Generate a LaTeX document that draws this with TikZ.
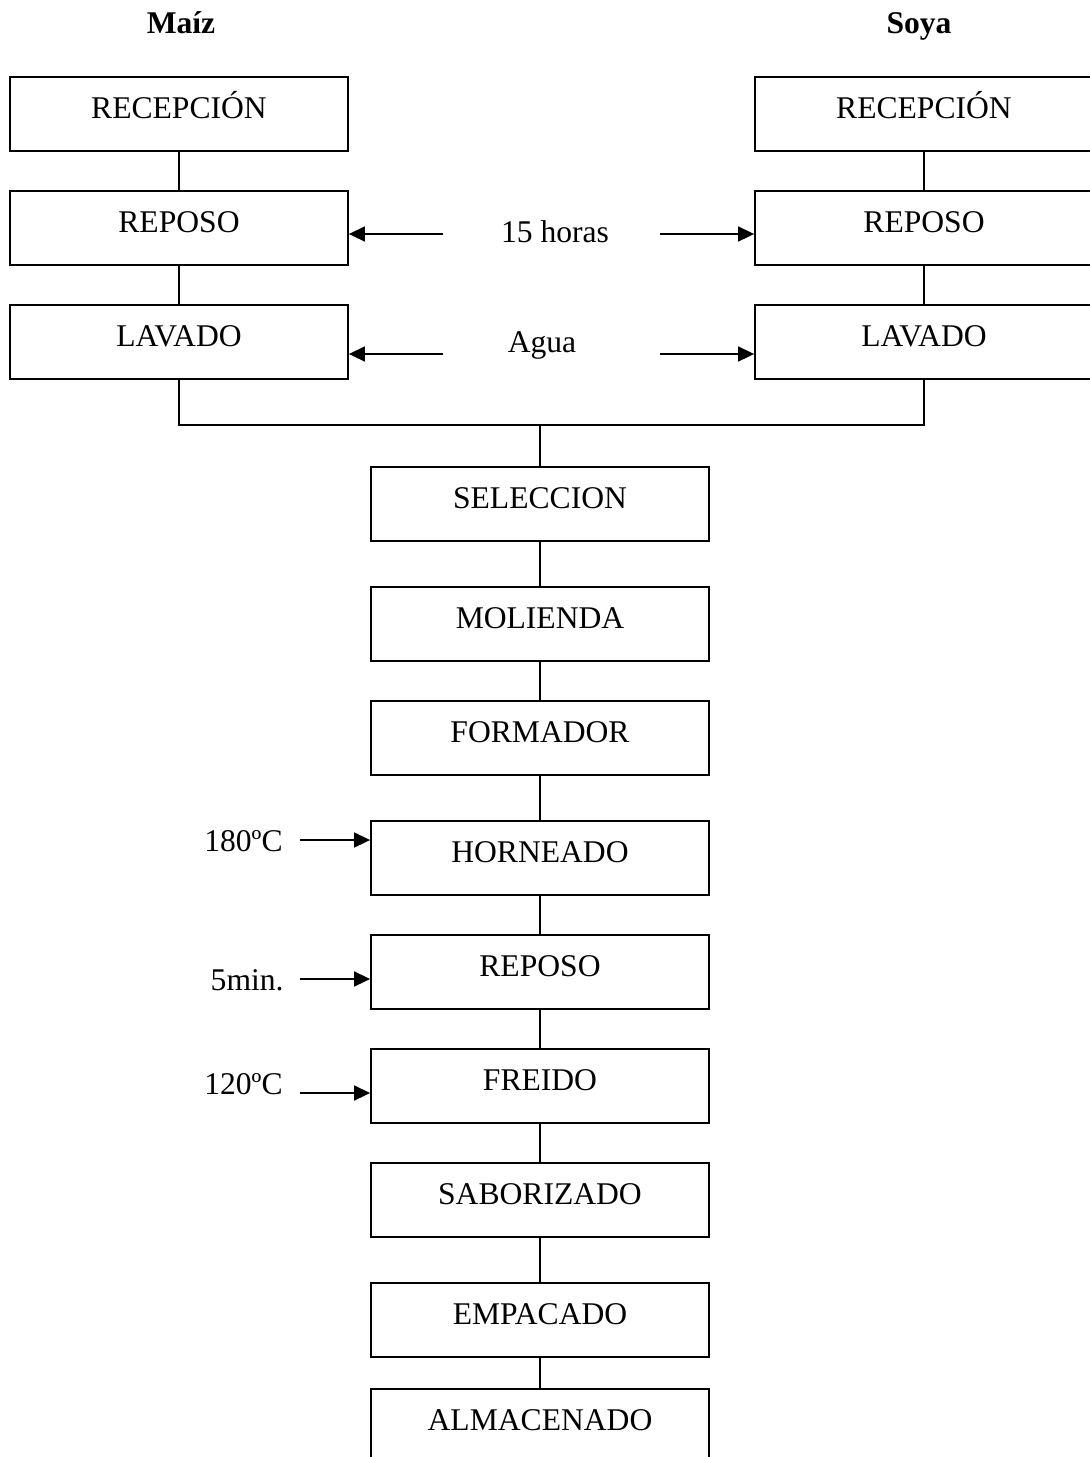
\documentclass[tikz,border=0pt]{standalone}
\usepackage{fontspec}
\setmainfont{Liberation Serif}
\usetikzlibrary{arrows.meta}
\tikzset{
  etapa/.style={draw, line width=0.9pt, minimum width=169pt, minimum height=37pt, inner sep=0pt,
    text height=12pt, text depth=8pt, font=\fontsize{15.8}{18}\selectfont},
  nota/.style={inner sep=0pt, font=\fontsize{15.8}{18}\selectfont},
  enlace/.style={line width=0.8pt},
  flecha/.style={line width=0.8pt, -{Triangle[length=8pt,width=7.5pt]}}
}
\begin{document}
\begin{tikzpicture}[x=0.5pt, y=-0.5pt]
			%%%%% START %%%%%
			\useasboundingbox (0, 0) rectangle (1090, 1457);
			
			\node[nota, anchor=base] (maiz) at (181, 33) {\textbf{Maíz}};
			\node[nota, anchor=base] (soya) at (919, 33) {\textbf{Soya}};
			
			% materias primas
			\node[etapa] (mrec) at (179, 114) {RECEPCIÓN};
			\node[etapa] (mrep) at (179, 228) {REPOSO};
			\node[etapa] (mlav) at (179, 342) {LAVADO};
			\node[etapa] (srec) at (924, 114) {RECEPCIÓN};
			\node[etapa] (srep) at (924, 228) {REPOSO};
			\node[etapa] (slav) at (924, 342) {LAVADO};
			
			\draw[enlace] (mrec) -- (mrep) -- (mlav);
			\draw[enlace] (srec) -- (srep) -- (slav);
			
			\node[nota, anchor=base] (horas) at (555, 242) {15 horas};
			\node[nota, anchor=base] (agua) at (542, 352) {Agua};
			\coordinate (hi) at (443, 234);
			\coordinate (hd) at (660, 234);
			\coordinate (ai) at (443, 354);
			\coordinate (ad) at (660, 354);
			\draw[flecha] (hi) -- (mrep.east |- hi);
			\draw[flecha] (hd) -- (srep.west |- hd);
			\draw[flecha] (ai) -- (mlav.east |- ai);
			\draw[flecha] (ad) -- (slav.west |- ad);
			
			% linea central
			\node[etapa] (sel) at (540, 504) {SELECCION};
			\node[etapa] (mol) at (540, 624) {MOLIENDA};
			\node[etapa] (form) at (540, 738) {FORMADOR};
			\node[etapa] (horn) at (540, 858) {HORNEADO};
			\node[etapa] (rep) at (540, 972) {REPOSO};
			\node[etapa] (frei) at (540, 1086) {FREIDO};
			\node[etapa] (sab) at (540, 1200) {SABORIZADO};
			\node[etapa] (emp) at (540, 1320) {EMPACADO};
			\node[etapa] (alm) at (540, 1426) {ALMACENADO};
			
			\coordinate (union) at (540, 425);
			\draw[enlace] (mlav.south) |- (union) -| (slav.south);
			\draw[enlace] (union) -- (sel.north);
			\draw[enlace] (sel) -- (mol) -- (form) -- (horn) -- (rep) -- (frei) -- (sab) -- (emp) -- (alm);
			
			\node[nota, anchor=base east] (t180) at (283, 851) {180ºC};
			\node[nota, anchor=base east] (t5) at (284, 990) {5min.};
			\node[nota, anchor=base east] (t120) at (283, 1094) {120ºC};
			\coordinate (c180) at (300, 840);
			\coordinate (c5) at (300, 979);
			\coordinate (c120) at (300, 1093);
			\draw[flecha] (c180) -- (horn.west |- c180);
			\draw[flecha] (c5) -- (rep.west |- c5);
			\draw[flecha] (c120) -- (frei.west |- c120);
			%%%%% END %%%%%
\end{tikzpicture}
\end{document}
